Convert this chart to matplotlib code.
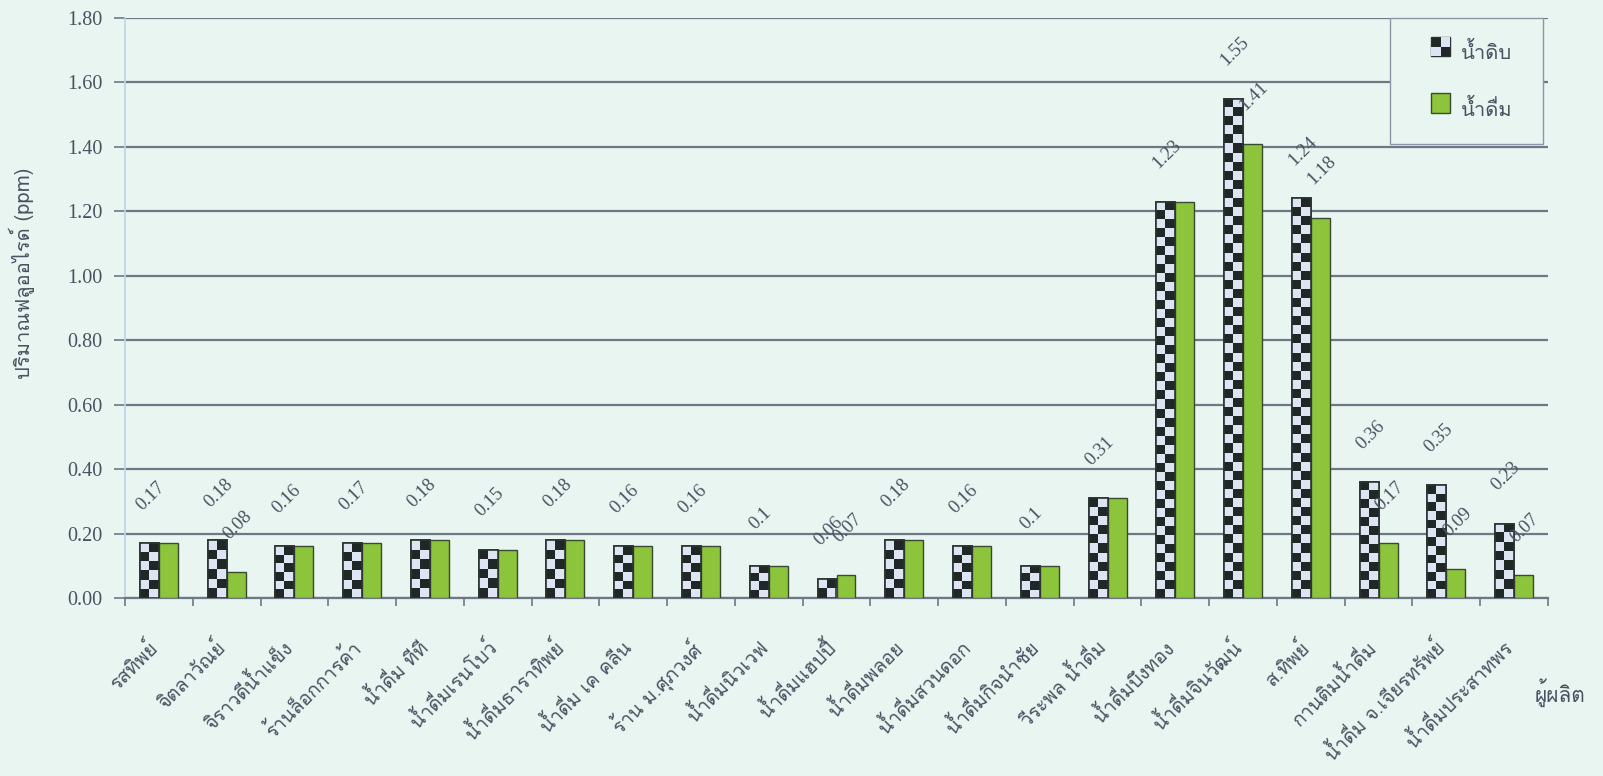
import sys
import numpy as np
import matplotlib
matplotlib.use("Agg")
import matplotlib.pyplot as plt
from matplotlib import font_manager
from matplotlib.ft2font import FT2Font
from matplotlib.patches import Rectangle
from matplotlib.transforms import ScaledTranslation
from matplotlib.legend_handler import HandlerBase

# ---------------- data ----------------
categories = ["รสทิพย์", "จิตลาวัณย์", "จิราวดีน้ำแข็ง", "ร้านล็อกการค้า", "น้ำดื่ม ทีที",
              "น้ำดื่มเรนโบว์", "น้ำดื่มธาราทิพย์", "น้ำดื่ม เค คลีน", "ร้าน ม.ศุภวงศ์",
              "น้ำดื่มนิวเวฟ", "น้ำดื่มแฮปปี้", "น้ำดื่มพลอย", "น้ำดื่มสวนดอก",
              "น้ำดื่มกิจนำชัย", "วีระพล น้ำดื่ม", "น้ำดื่มบึงทอง", "น้ำดื่มจินวัฒน์",
              "ส.ทิพย์", "กานติมน้ำดื่ม", "น้ำดื่ม จ.เจียรทรัพย์", "น้ำดื่มประสาทพร"]
raw_water = [0.17, 0.18, 0.16, 0.17, 0.18, 0.15, 0.18, 0.16, 0.16, 0.10, 0.06,
             0.18, 0.16, 0.10, 0.31, 1.23, 1.55, 1.24, 0.36, 0.35, 0.23]
drink_water = [0.17, 0.08, 0.16, 0.17, 0.18, 0.15, 0.18, 0.16, 0.16, 0.10, 0.07,
               0.18, 0.16, 0.10, 0.31, 1.23, 1.41, 1.18, 0.17, 0.09, 0.07]
raw_labels = ["0.17", "0.18", "0.16", "0.17", "0.18", "0.15", "0.18", "0.16", "0.16", "0.1", "0.06",
              "0.18", "0.16", "0.1", "0.31", "1.23", "1.55", "1.24", "0.36", "0.35", "0.23"]
drink_labels = ["", "0.08", "", "", "", "", "", "", "", "", "0.07",
                "", "", "", "", "", "1.41", "1.18", "0.17", "0.09", "0.07"]
series_names = ["น้ำดิบ", "น้ำดื่ม"]
y_ticks = [0.0, 0.2, 0.4, 0.6, 0.8, 1.0, 1.2, 1.4, 1.6, 1.8]
y_title = "ปริมาณฟลูออไรด์ (ppm)"
x_title = "ผู้ผลิต"

# ---------------- fonts ----------------
thai_family = None
seen = set()
for fe in font_manager.fontManager.ttflist:
    if fe.fname in seen:
        continue
    seen.add(fe.fname)
    try:
        f = FT2Font(fe.fname)
        if f.get_char_index(0x0E01) and f.get_char_index(0x0E49):
            thai_family = fe.name
            break
    except Exception:
        pass
fams = ([thai_family] if thai_family else []) + ["Liberation Serif", "DejaVu Sans"]
num_fams = ["Liberation Serif", "DejaVu Serif"]

BG = "#e9f5f1"
TXT = "#4a5262"
GRID = "#6e7884"
GREEN = "#8cc43c"
DARK = "#1f2727"
LIGHT = "#dde5f2"

fig = plt.figure(figsize=(16.03, 7.76), dpi=100, facecolor=BG)
W, H = 1603, 776
ax_l, ax_r, ax_t, ax_b = 125, 1548, 18, 598
ax = fig.add_axes([ax_l / W, 1 - ax_b / H, (ax_r - ax_l) / W, (ax_b - ax_t) / H])
ax.set_facecolor(BG)

n = len(categories)
x = np.arange(n)
bw = 0.28
ax.set_xlim(-0.5, n - 0.5)
ax.set_ylim(0, 1.8)

# gridlines
ax.set_yticks(y_ticks)
ax.set_yticklabels([f"{v:.2f}" for v in y_ticks], family=num_fams, fontsize=14.5, color=TXT)
ax.yaxis.grid(True, color=GRID, linewidth=1.6, zorder=0)
ax.set_axisbelow(True)
ax.tick_params(axis="y", length=8, color=GRID, width=1.2, pad=8)

for s in ["top", "right"]:
    ax.spines[s].set_visible(False)
ax.spines["left"].set_color("#b8d6e6")
ax.spines["left"].set_linewidth(1.2)
ax.spines["bottom"].set_color(GRID)
ax.spines["bottom"].set_linewidth(1.6)

# bars
bars_raw = ax.bar(x - bw / 2, raw_water, bw, facecolor=DARK, edgecolor="#2b3333",
                  linewidth=1.2, zorder=3)
bars_drk = ax.bar(x + bw / 2, drink_water, bw, facecolor=GREEN, edgecolor="#3a4a30",
                  linewidth=1.0, zorder=3)

# checker pattern inside raw bars
px_per_unit = (ax_b - ax_t) / 1.8
cell_px = 9.0
cmap2 = matplotlib.colors.ListedColormap([DARK, LIGHT])
for b in bars_raw:
    x0, w, h = b.get_x(), b.get_width(), b.get_height()
    rows = max(1, int(round(h * px_per_unit / cell_px)))
    cols = 2
    pat = (np.add.outer(np.arange(rows), np.arange(cols)) % 2).astype(float)[::-1]
    im = ax.imshow(pat, extent=(x0, x0 + w, 0, h), cmap=cmap2,
                   interpolation="nearest", aspect="auto", zorder=3.5, vmin=0, vmax=1)
    im.set_clip_path(b)
    ax.add_patch(Rectangle((x0, 0), w, h, fill=False, edgecolor="#2b3333", linewidth=1.2, zorder=4))
ax.set_xlim(-0.5, n - 0.5)
ax.set_ylim(0, 1.8)

# data labels
for i in range(n):
    ax.annotate(raw_labels[i], (x[i] - bw / 2, raw_water[i]), xytext=(1, 34), textcoords="offset points",
                ha="center", va="center", rotation=45, family=num_fams, fontsize=13.5, color=TXT, zorder=5)
    if drink_labels[i]:
        ax.annotate(drink_labels[i], (x[i] + bw / 2, drink_water[i]), xytext=(1, 34),
                    textcoords="offset points", ha="center", va="center", rotation=45,
                    family=num_fams, fontsize=13.5, color=TXT, zorder=5)

# x ticks at boundaries, labels at centres
ax.set_xticks(np.arange(n + 1) - 0.5)
ax.set_xticklabels([])
ax.tick_params(axis="x", length=6, color=GRID, width=1.2, direction="out")
ax.set_xticks(x, minor=True)
ax.set_xticklabels(categories, minor=True, rotation=45, ha="right", rotation_mode="anchor",
                   family=fams, fontsize=14, color=TXT)
ax.tick_params(axis="x", which="minor", length=0, pad=28)
shift = ScaledTranslation(-12 / 100, 0, fig.dpi_scale_trans)
for lab in ax.get_xticklabels(minor=True):
    lab.set_transform(lab.get_transform() + shift)

# axis titles
fig.text(22 / W, 1 - 273 / H, y_title, rotation=90, ha="center", va="center",
         family=fams, fontsize=14.5, color=TXT)
fig.text(1560 / W, 1 - 693 / H, x_title, ha="center", va="center", family=fams, fontsize=15, color=TXT)

# legend
HL = 1.1 * 14.5 * 100 / 72  # handle box size in px


class CheckerHandler(HandlerBase):
    def create_artists(self, legend, orig, xd, yd, w, h, fontsize, trans):
        s = h
        x0 = xd + w - s
        arts = [Rectangle((x0, yd), s, s, facecolor=DARK, edgecolor="#2b3333", lw=1, transform=trans),
                Rectangle((x0 + s / 2, yd + s / 2), s / 2, s / 2, facecolor=LIGHT, lw=0, transform=trans),
                Rectangle((x0, yd), s / 2, s / 2, facecolor=LIGHT, lw=0, transform=trans)]
        return arts


class GreenHandler(HandlerBase):
    def create_artists(self, legend, orig, xd, yd, w, h, fontsize, trans):
        s = h
        x0 = xd + w - s
        return [Rectangle((x0, yd), s, s, facecolor=GREEN, edgecolor="#3a4a30", lw=1, transform=trans)]


leg = ax.legend([bars_raw, bars_drk], series_names, loc="upper left",
                bbox_to_anchor=((1390 - ax_l) / (ax_r - ax_l), 1.0, (1543 - 1390) / (ax_r - ax_l), 0),
                handler_map={bars_raw: CheckerHandler(), bars_drk: GreenHandler()},
                prop={"family": fams, "size": 14.5},
                handlelength=1.8, handleheight=1.1, handletextpad=0.5, labelspacing=1.75, borderpad=1.2,
                frameon=True, fancybox=False, edgecolor="#8c96a8", facecolor=BG, framealpha=1,
                borderaxespad=0, mode="expand")
for t in leg.get_texts():
    t.set_color(TXT)
leg.get_frame().set_linewidth(1.0)
leg.set_zorder(6)

fig.savefig("out.png", dpi=100, facecolor=BG)
